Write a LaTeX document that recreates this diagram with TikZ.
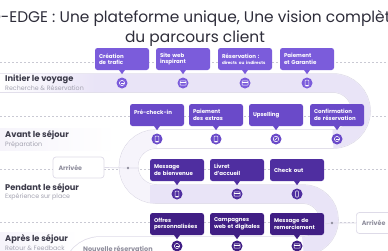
\documentclass[tikz,border=0pt]{standalone}
\usepackage{fontspec}
\setmainfont{Poppins}
\begin{document}
\definecolor{lav}{HTML}{E9E4F7}
\definecolor{lavlight}{HTML}{F6F4FB}
\definecolor{roadc}{HTML}{DEDBE8}
\definecolor{dashc}{HTML}{C9C9D3}
\definecolor{cA}{HTML}{7B5CDB}
\definecolor{cB}{HTML}{6A4AC9}
\definecolor{cC}{HTML}{4F2EA0}
\definecolor{cD}{HTML}{401E84}
\definecolor{lbl}{HTML}{3C3B4A}
\definecolor{subc}{HTML}{A3A2B0}
\definecolor{arrc}{HTML}{8E8D9C}
\definecolor{titc}{HTML}{2E2D3A}
\begin{tikzpicture}[x=1pt,y=-1pt,
  stepbox/.style={rectangle,rounded corners=2.5pt,minimum width=54pt,minimum height=22pt,
    text width=46pt,align=left,inner sep=0pt,text=white,font=\fontsize{5.5}{6.5}\selectfont\bfseries},
  iconc/.style={circle,minimum size=11pt,inner sep=0pt},
  stage/.style={anchor=west,inner sep=0pt,text=lbl,font=\fontsize{8.3}{9}\selectfont\bfseries},
  substage/.style={anchor=west,inner sep=0pt,text=subc,font=\fontsize{6.3}{7}\selectfont},
  arrbox/.style={rectangle,rounded corners=3pt,draw=roadc,line width=0.7pt,fill=white,
    minimum width=51pt,minimum height=21pt,text width=40pt,align=left,inner sep=0pt,
    text=arrc,font=\fontsize{6.3}{7}\selectfont\bfseries},
  dashl/.style={draw=dashc,line width=0.5pt,dash pattern=on 2pt off 2pt},
  conn/.style={draw=roadc,line width=0.7pt},
  glyph/.style={draw=white,line width=0.5pt}
]
\useasboundingbox (0,0) rectangle (388,250);
\clip (0,0) rectangle (388,250);
\fill[white] (0,0) rectangle (388,250);

% title
\node[inner sep=0pt,text=titc,font=\fontsize{15.4}{17}\selectfont] (t1) at (195,18) {D-EDGE : Une plateforme unique, Une vision complète};
\node[inner sep=0pt,text=titc,font=\fontsize{15.4}{17}\selectfont] (t2) at (195,39) {du parcours client};

% dashed row lines
\coordinate (d1a) at (0,62);   \coordinate (d1b) at (388,62);
\coordinate (d2a) at (0,116);  \coordinate (d2b) at (388,116);
\coordinate (d3a) at (0,169);  \coordinate (d3b) at (388,169);
\coordinate (d4a) at (0,222);  \coordinate (d4b) at (388,222);
\draw[dashl] (d1a) -- (d1b);
\draw[dashl] (d2a) -- (d2b);
\draw[dashl] (d3a) -- (d3b);
\draw[dashl] (d4a) -- (d4b);

% left label bands
\shade[left color=lavlight,right color=white] (0,128) rectangle (116,150);
\shade[left color=lavlight,right color=white] (0,232) rectangle (78,250);

% road
\def\roadpath{(0,83) -- (333,83) arc[start angle=-90,end angle=90,radius=28]
  -- (156,139) arc[start angle=-90,end angle=-270,radius=27.5]
  -- (303,194) arc[start angle=-90,end angle=90,radius=26]
  -- (100,246) arc[start angle=-90,end angle=-180,radius=28]}
\draw[roadc,line width=19.5pt] \roadpath;
\draw[white,line width=18pt] \roadpath;
\draw[lavlight,line width=18pt] (156,139) arc[start angle=-90,end angle=-270,radius=27.5];
\draw[lav,line width=18pt] (0,83) -- (333,83) arc[start angle=-90,end angle=90,radius=28];
\draw[lav,line width=18pt] (150,194) -- (303,194) arc[start angle=-90,end angle=90,radius=26];
\shade[left color=white,right color=lav] (0,74.5) rectangle (95,91.5);

% stage labels
\node[stage] (s1) at (5,79) {Initier le voyage};
\node[substage] (s1b) at (5,88) {Recherche \& Réservation};
\node[stage] (s2) at (5,135) {Avant le séjour};
\node[substage] (s2b) at (5,145) {Préparation};
\node[stage] (s3) at (5,188) {Pendant le séjour};
\node[substage] (s3b) at (5,197) {Expérience sur place};
\node[stage] (s4) at (5,239.5) {Après le séjour};
\node[substage] (s4b) at (5,248.5) {Retour \& Feedback};
\node[inner sep=0pt,anchor=west,text=arrc,font=\fontsize{6.5}{7}\selectfont\bfseries] (nr) at (83,249) {Nouvelle réservation};

% arrival boxes and connectors
\node[arrbox] (arr1) at (78.5,167.5) {Arrivée};
\node[circle,fill=arrc,minimum size=2.6pt,inner sep=0pt] (dot1) at (128,168) {};
\coordinate (e1) at (139,168);
\draw[conn] (arr1.east) -- (dot1) -- (e1);
\node[arrbox,anchor=west] (arr2) at (356,223) {Arrivée};
\node[circle,fill=arrc,minimum size=2.6pt,inner sep=0pt] (dot2) at (332,223) {};

% row 1
\foreach \n/\x/\t in {b1/122/{Création\\de trafic},b2/183/{Site web\\inspirant},
   b3/245/{Réservation :\\{\fontsize{4.2}{5}\selectfont directs ou indirects}},b4/307/{Paiement\\et Garantie}}{
  \node[stepbox,fill=cA] (\n) at (\x,59) {\t};
  \fill[cA] (\n.south) ++(-3.2,-0.5) -- ++(3.2,4.5) -- ++(3.2,-4.5) -- cycle;
}
% row 2
\foreach \n/\x/\t in {c1/157/{Pré-check-in\\\mbox{}},c2/216/{Paiement\\des extras},
   c3/276/{Upselling},c4/337/{Confirmation\\de réservation}}{
  \node[stepbox,fill=cB] (\n) at (\x,115) {\t};
  \fill[cB] (\n.south) ++(-3.2,-0.5) -- ++(3.2,4.5) -- ++(3.2,-4.5) -- cycle;
}
% row 3
\foreach \n/\x/\t in {m1/177/{Message\\de bienvenue},m2/237/{Livret\\d'accueil},m3/297/{Check out}}{
  \node[stepbox,fill=cC] (\n) at (\x,170) {\t};
  \fill[cC] (\n.south) ++(-3.2,-0.5) -- ++(3.2,4.5) -- ++(3.2,-4.5) -- cycle;
}
% row 4
\foreach \n/\x/\t in {p1/177/{Offres\\personnalisées},p2/237/{Campagnes\\web et digitales},p3/297/{Message de\\remerciement}}{
  \node[stepbox,fill=cD] (\n) at (\x,224) {\t};
  \fill[cD] (\n.south) ++(-3.2,-0.5) -- ++(3.2,4.5) -- ++(3.2,-4.5) -- cycle;
}
\draw[conn] (p3.east) -- (dot2) -- (arr2.west);

% icons
\foreach \n/\x/\y/\c in {i1/122/83/cA,i2/183/83/cA,i3/245/83/cA,i4/307/83/cA,
   j1/157/139/cB,j2/216/139/cB,j3/276/139/cB,j4/337/139/cB,
   k1/177/194/cC,k2/237/194/cC,k3/297/194/cC,
   l1/177/246/cD,l2/237/246/cD,l3/297/246/cD}{
  \node[iconc,fill=\c] (\n) at (\x,\y) {};
}
% glyphs
\foreach \n in {i2,i3,l2,l3,k2}{
  \draw[glyph,rounded corners=0.6pt] (\n.center) ++(-3,-2.2) rectangle ++(6,4.4);
  \draw[glyph] (\n.center) ++(-3,-0.8) -- ++(6,0);
}
\foreach \n in {j1,j2,k1,i4}{
  \draw[glyph,rounded corners=0.6pt] (\n.center) ++(-1.8,-3) rectangle ++(3.6,6);
  \draw[glyph] (\n.center) ++(-0.6,1.8) -- ++(1.2,0);
}
\foreach \n in {i1,j4,l1}{
  \draw[glyph] (\n.center) circle[radius=2.6pt];
  \draw[glyph] (\n.center) ++(-1.5,0) -- ++(3,0);
}
\draw[glyph] (j3.center) circle[radius=2.8pt];
\draw[glyph] (j3.center) ++(-1.4,1.4) -- ++(2.8,-2.8);
\draw[glyph,rounded corners=0.8pt] (k3.center) ++(-1.3,-3.2) rectangle ++(2.6,6.4);
\end{tikzpicture}
\end{document}
